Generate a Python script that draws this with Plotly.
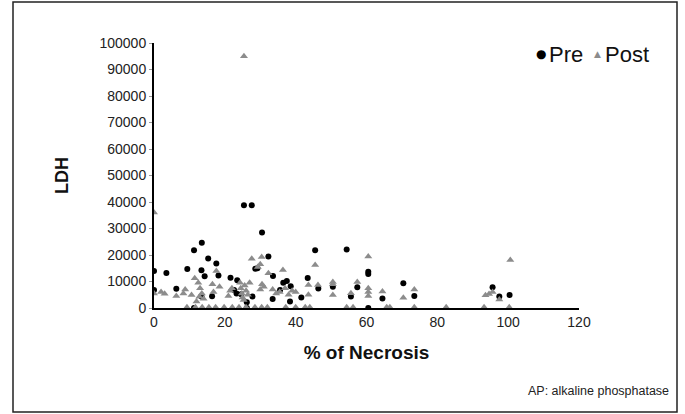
import plotly.graph_objects as go

# ---- data ----
pre_x = [0, 0, 3.5, 6.3, 9.4, 11.3, 13.5, 13.4, 14.3, 15.3, 17.6, 18.2, 16.4, 13.4,
         21.6, 23.5, 22.6, 23.3, 11.3, 25.4, 27.6, 30.5, 26.2, 27.8, 28.6, 29.2,
         32.3, 33.6, 33.5, 35.6, 36.5, 37.5, 38.6, 38.4, 41.6, 43.4, 45.5, 46.4,
         50.5, 54.4, 55.6, 57.4, 60.5, 60.5, 60.5, 64.5, 70.4, 73.5, 95.6, 97.5,
         100.4, 24.6, 26.2]
pre_y = [14000, 6800, 13200, 7300, 14700, 21800, 24600, 14200, 12000, 18700, 16800,
         12300, 4400, 4300, 11400, 10500, 6800, 5500, 0, 38800, 38800, 28500, 2200,
         4300, 14800, 15000, 19400, 12100, 3400, 6800, 9500, 10200, 8200, 2500, 4000,
         11300, 21800, 7400, 8000, 22100, 4300, 7800, 13700, 12800, 0, 3600, 9300,
         4500, 7800, 4300, 4900, 5200, 0]

post_x = [0, 0, 2, 3, 6.3, 8.3, 8.8, 10.6, 11.5, 12, 12.5, 13, 13.5, 14, 12.8,
          16.5, 17.6, 16.8, 18.5, 21, 21.5, 22, 24.3, 24.5, 24.8, 25, 25.3, 25.4,
          25.6, 26, 26.5, 27, 27.6, 30.4, 29.3, 30, 32.3, 30, 30.5, 31, 33.5, 34.5,
          36.4, 35.5, 37, 38, 39, 40, 43.6, 43.6, 45.5, 46.3, 50.5, 50.5, 50.5,
          55.6, 57.4, 60.5, 60.5, 60.5, 60.5, 64.5, 70.4, 73.5, 94.6, 95.6, 93.6,
          97.5, 100.6,
          9.3, 11.7, 13.6, 15.5, 17.4, 19.8, 22.1, 24, 26, 28.5, 30.4, 32, 37.2,
          40, 42.7, 44, 54.4, 56.2, 65.7, 66.6, 73.5, 82.5, 93.2, 100.3]
post_y = [36000, 5500, 6000, 5400, 4500, 5500, 7000, 4900, 11200, 2500, 9500, 7500,
          5500, 3500, 4200, 9000, 14000, 6000, 8000, 4500, 6500, 7500, 9500, 7500,
          5500, 4000, 3000, 95000, 8500, 6500, 5000, 9500, 18600, 19200, 15500,
          16500, 13100, 7000, 9000, 8000, 7000, 5500, 14300, 6000, 7500, 5000, 6500,
          6000, 8700, 5000, 16200, 8700, 9800, 4900, 9000, 5600, 9800, 19400, 7500,
          6000, 4500, 6200, 3900, 7000, 5300, 6000, 4800, 3200, 18100,
          300, 300, 300, 300, 300, 300, 300, 300, 300, 300, 300, 300, 300,
          300, 300, 300, 300, 300, 300, 300, 300, 300, 300, 300]

x_ticks = [0, 20, 40, 60, 80, 100, 120]
y_ticks = [0, 10000, 20000, 30000, 40000, 50000, 60000, 70000, 80000, 90000, 100000]
series_names = ["Pre", "Post"]
series_colors = ["#000000", "#8c8c8c"]
series_glyphs = ["●", "▲"]

FONT = "Liberation Sans, Arial, sans-serif"

fig = go.Figure()
fig.add_trace(go.Scatter(x=pre_x, y=pre_y, mode="markers", name=series_names[0],
                         showlegend=False,
                         marker=dict(symbol="circle", size=6, color=series_colors[0])))
fig.add_trace(go.Scatter(x=post_x, y=post_y, mode="markers", name=series_names[1],
                         showlegend=False,
                         marker=dict(symbol="triangle-up", size=7, color=series_colors[1])))

W, H = 685, 414
L, R, T, B = 154, 579, 43, 308
pw, ph = R - L, B - T


def px(xp):
    return (xp - L) / pw


def py(yp):
    return (B - yp) / ph


annotations = []
# legend key: symbol + label
sym_pos = [541, 597]
sym_size = [12, 9]
lab_pos = [547, 603]
for i in range(2):
    annotations.append(dict(text=series_glyphs[i], xref="paper", yref="paper",
                            x=px(sym_pos[i]), y=py(54), xanchor="center", yanchor="middle",
                            showarrow=False,
                            font=dict(size=sym_size[i], color=series_colors[i],
                                      family="DejaVu Sans")))
    annotations.append(dict(text=series_names[i], xref="paper", yref="paper",
                            x=px(lab_pos[i]), y=py(54), xanchor="left", yanchor="middle",
                            showarrow=False,
                            font=dict(size=22, color="#111111", family=FONT)))
annotations.append(dict(text="AP: alkaline phosphatase", xref="paper", yref="paper",
                        x=px(671), y=py(391), xanchor="right", yanchor="middle",
                        showarrow=False, font=dict(size=12.5, color="#222222")))

fig.update_layout(
    width=W, height=H,
    margin=dict(l=L, r=W - R, t=T, b=H - B, pad=0),
    paper_bgcolor="white", plot_bgcolor="white",
    font=dict(family=FONT, color="#222222", size=14),
    showlegend=False,
    xaxis=dict(range=[0, 120], tickvals=x_ticks, ticktext=[str(v) for v in x_ticks],
               showgrid=False, zeroline=False, showline=True, linecolor="#000000",
               linewidth=2, ticks="", tickfont=dict(size=14, color="#222222"),
               title=dict(text="<b>% of Necrosis</b>", font=dict(size=19, color="#111111"),
                          standoff=17)),
    yaxis=dict(range=[0, 100000], tickvals=y_ticks, ticktext=[str(v) for v in y_ticks],
               showgrid=False, zeroline=False, showline=True, linecolor="#000000",
               linewidth=2, ticks="outside", ticklen=3, tickcolor="#999999",
               tickfont=dict(size=14, color="#222222"),
               title=dict(text="<b>LDH</b>", font=dict(size=18, color="#111111"), standoff=26)),
    shapes=[dict(type="rect", xref="paper", yref="paper",
                 x0=px(13), x1=px(677), y0=py(412), y1=py(2),
                 line=dict(color="#222222", width=1.5), fillcolor="rgba(0,0,0,0)",
                 layer="below")],
    annotations=annotations,
)

fig.write_html("out.html", config={"displayModeBar": False},
               post_script="document.body.style.margin='0px';document.body.style.overflow='hidden';")
